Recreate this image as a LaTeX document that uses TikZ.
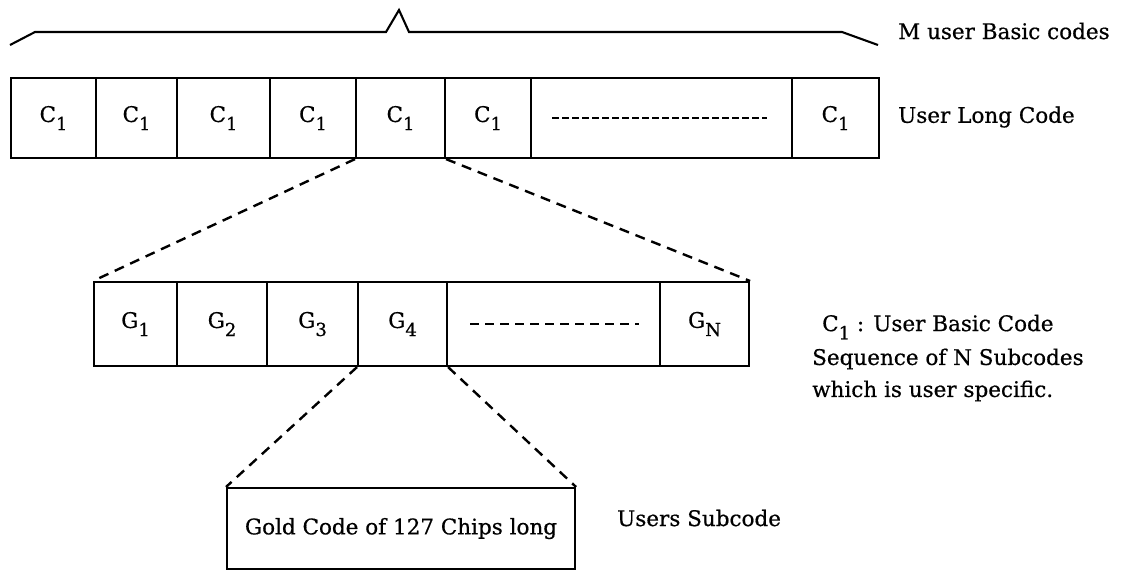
\documentclass[tikz,border=0pt]{standalone}
\usepackage{fontspec}
\setmainfont{DejaVu Serif}[FakeBold=0.6]
\newcommand\subidx[1]{\raisebox{-0.38em}{\fontsize{18}{18}\selectfont #1}}
\newcommand\clab{C\subidx{1}}
\begin{document}
\begin{tikzpicture}[x=1pt,y=-1pt,
  font=\fontsize{21.5}{25}\selectfont,
  cell/.style={draw, line width=2.1pt, inner sep=0pt, anchor=north west},
  conn/.style={line width=2.4pt, dash pattern=on 10pt off 7pt},
  celldash/.style={line width=2pt, dash pattern=on 6.5pt off 3.5pt},
  gdash/.style={line width=2pt, dash pattern=on 9pt off 6pt},
  txt/.style={inner sep=0pt, anchor=west},
  brace/.style={line width=2.1pt, line join=miter}]
\useasboundingbox (0,0) rectangle (1123,571);
% brace
\draw[brace] (10,45) -- (35,32) -- (386,32) -- (399,10) -- (409,32) -- (842,32) -- (878,45);
% long code cells
\begin{scope}[every node/.append style={minimum height=80pt}]
\node[cell, minimum width=85pt] (c1) at (10,77) {\clab};
\node[cell, minimum width=81pt] (c2) at (95,77) {\clab};
\node[cell, minimum width=93pt] (c3) at (176,77) {\clab};
\node[cell, minimum width=86pt] (c4) at (269,77) {\clab};
\node[cell, minimum width=89pt] (c5) at (355,77) {\clab};
\node[cell, minimum width=86pt] (c6) at (444,77) {\clab};
\node[cell, minimum width=261pt] (c7) at (530,77) {};
\node[cell, minimum width=87pt] (c8) at (791,77) {\clab};
\end{scope}
\draw[celldash] ([xshift=22pt]c7.west) -- ([xshift=-26pt]c7.east);
% subcode cells
\begin{scope}[every node/.append style={minimum height=84pt}]
\node[cell, minimum width=83pt] (g1) at (93,281) {G\subidx{1}};
\node[cell, minimum width=90pt] (g2) at (176,281) {G\subidx{2}};
\node[cell, minimum width=91pt] (g3) at (266,281) {G\subidx{3}};
\node[cell, minimum width=89pt] (g4) at (357,281) {G\subidx{4}};
\node[cell, minimum width=213pt] (g5) at (446,281) {};
\node[cell, minimum width=89pt] (gN) at (659,281) {G\subidx{N}};
\end{scope}
\draw[gdash] ([xshift=24pt]g5.west) -- ([xshift=-22pt]g5.east);
% gold code box
\node[cell, minimum width=348pt, minimum height=81pt] (gold) at (226,487) {Gold Code of 127 Chips long};
% dashed zoom connectors
\draw[conn] (c5.south west) -- (g1.north west);
\draw[conn] (c5.south east) -- (gN.north east);
\draw[conn] (g4.south west) -- (gold.north west);
\draw[conn] (g4.south east) -- (gold.north east);
% labels
\node[txt] (mlab) at (898,31) {M user Basic codes};
\node[txt] (ulc) at (898,117) {User Long Code};
\node[txt] (bc) at (822,327) {C\subidx{1} : User Basic Code};
\node[txt] (seq) at (812,359) {Sequence of N Subcodes};
\node[txt] (wis) at (812,391) {which is user specific.};
\node[txt] (us) at (617,518) {Users Subcode};
\end{tikzpicture}
\end{document}
